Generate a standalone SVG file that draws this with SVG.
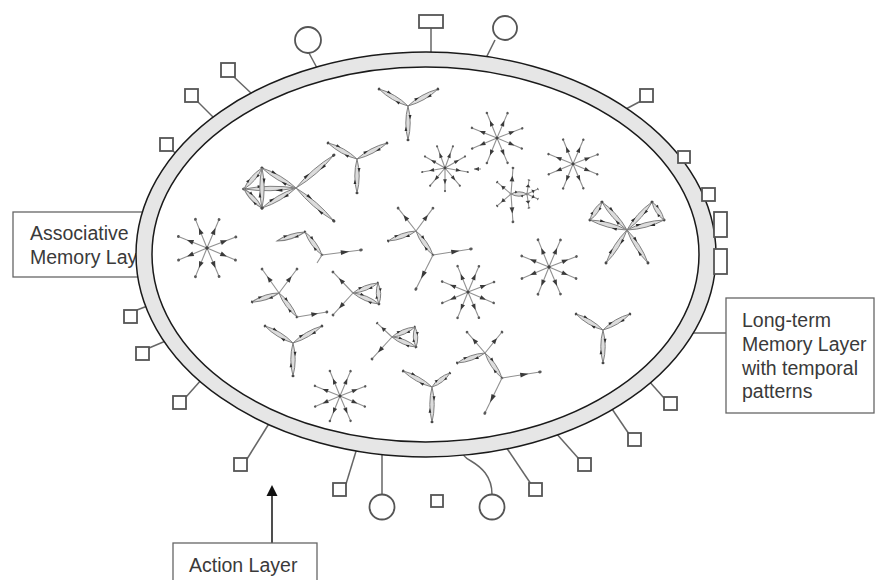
<svg xmlns="http://www.w3.org/2000/svg" xmlns:xlink="http://www.w3.org/1999/xlink" width="878" height="580" viewBox="0 0 878 580">
<style>
.lens{fill:#dcdcdc;stroke:#808080;stroke-width:1;vector-effect:non-scaling-stroke}
.sp{stroke:#909090;stroke-width:1.1;vector-effect:non-scaling-stroke}
.sq{fill:#fff;stroke:#555;stroke-width:1.8}
.ln{fill:none;stroke:#666;stroke-width:1.5}
.box{fill:#fff;stroke:#666;stroke-width:1.3}
.t{font-family:"Liberation Sans",Arial,sans-serif;font-size:19.5px;fill:#3a3a3a}
.hub{fill:#444}
</style>
<defs>
<g id="arm">
<path class="lens" d="M0,0 Q20,-4.4 40,0 Q20,4.4 0,0Z"/>
<path d="M16,-2.1 L10.5,-3.5 L10.5,-0.6Z M24,2.1 L29.5,3.4 L29.5,0.7Z" fill="#2e2e2e"/>
<circle cx="40" cy="0" r="1.5" fill="#4a4a4a"/>
</g>
<g id="spoke">
<line x1="0" y1="0" x2="30" y2="0" class="sp"/>
<path d="M21,0 L14.5,-2.4 L14.5,2.4Z" fill="#3a3a3a"/>
<circle cx="30" cy="0" r="1.4" fill="#5a5a5a"/>
</g>
<g id="star8">
<use href="#spoke" transform="rotate(-112)"/>
<use href="#spoke" transform="rotate(-67)"/>
<use href="#spoke" transform="rotate(-21)"/>
<use href="#spoke" transform="rotate(23)"/>
<use href="#spoke" transform="rotate(67)"/>
<use href="#spoke" transform="rotate(112)"/>
<use href="#spoke" transform="rotate(157)"/>
<use href="#spoke" transform="rotate(-158)"/>
<circle r="1.7" class="hub"/>
</g>
<g id="star9">
<use href="#spoke" transform="rotate(-110)"/>
<use href="#spoke" transform="rotate(-70)"/>
<use href="#spoke" transform="rotate(-30)"/>
<use href="#spoke" transform="rotate(10)"/>
<use href="#spoke" transform="rotate(50)"/>
<use href="#spoke" transform="rotate(90)"/>
<use href="#spoke" transform="rotate(130)"/>
<use href="#spoke" transform="rotate(170)"/>
<use href="#spoke" transform="rotate(-150)"/>
<circle r="1.9" class="hub"/>
</g>
</defs>
<rect width="878" height="580" fill="#fff"/>

<g id="assoc-label">
<rect class="box" x="13" y="212" width="140" height="65"/>
<text class="t" x="30" y="240">Associative</text>
<text class="t" x="30" y="264">Memory Lay</text>
</g>

<g id="connectors">
<line class="ln" x1="309" y1="53" x2="317" y2="68"/>
<line class="ln" x1="431" y1="28" x2="431" y2="54"/>
<line class="ln" x1="495" y1="40" x2="486" y2="58"/>
<line class="ln" x1="234" y1="77" x2="252" y2="94"/>
<line class="ln" x1="198" y1="102" x2="215" y2="119"/>
<line class="ln" x1="173" y1="151" x2="181" y2="158"/>
<line class="ln" x1="641" y1="101" x2="624" y2="110"/>
<line class="ln" x1="709" y1="224" x2="714" y2="224"/>
<line class="ln" x1="664" y1="398" x2="648" y2="380"/>
<line class="ln" x1="629" y1="434" x2="610" y2="406"/>
<line class="ln" x1="579" y1="459" x2="555" y2="432"/>
<line class="ln" x1="531" y1="484" x2="506" y2="447"/>
<path class="ln" d="M492,494.5 C492,476 481,467 471,461 C465,458 462,455 462,450"/>
<line class="ln" x1="382" y1="494.5" x2="382" y2="452"/>
<line class="ln" x1="346" y1="484" x2="357" y2="448"/>
<line class="ln" x1="247" y1="459" x2="270" y2="422"/>
<line class="ln" x1="186" y1="397" x2="202" y2="379"/>
<line class="ln" x1="149" y1="348" x2="168" y2="340"/>
<line class="ln" x1="137" y1="310" x2="150" y2="305"/>
<line class="ln" x1="686" y1="333" x2="726" y2="333"/>
<line x1="272" y1="543" x2="272" y2="494" stroke="#222" stroke-width="1.6"/>
<path d="M272,485 L266.5,496 L277.5,496Z" fill="#111"/>
</g>

<g id="ring">
<ellipse cx="426" cy="254.5" rx="290" ry="202.5" fill="#e6e6e6" stroke="#1a1a1a" stroke-width="1.5"/>
<ellipse cx="425.5" cy="254.5" rx="273.5" ry="187.5" fill="#fff" stroke="#1a1a1a" stroke-width="1.5"/>
</g>

<g id="sensors">
<circle class="sq" cx="308" cy="40" r="13"/>
<rect class="sq" x="419" y="15" width="24" height="13"/>
<circle class="sq" cx="505" cy="28" r="12"/>
<rect class="sq" x="221" y="63" width="14" height="14"/>
<rect class="sq" x="185" y="89" width="13" height="13"/>
<rect class="sq" x="160" y="138" width="13" height="13"/>
<rect class="sq" x="640" y="89" width="13" height="13"/>
<rect class="sq" x="678" y="151" width="12" height="12"/>
<rect class="sq" x="702" y="188" width="13" height="13"/>
<rect class="sq" x="714" y="212" width="13" height="25"/>
<rect class="sq" x="714" y="249" width="13" height="25"/>
<rect class="sq" x="664" y="397" width="13" height="13"/>
<rect class="sq" x="628" y="433" width="13" height="13"/>
<rect class="sq" x="578" y="458" width="13" height="13"/>
<rect class="sq" x="529" y="483" width="13" height="13"/>
<circle class="sq" cx="492" cy="507" r="12.5"/>
<rect class="sq" x="431" y="495" width="12" height="12"/>
<circle class="sq" cx="382" cy="507" r="12.5"/>
<rect class="sq" x="333" y="483" width="13" height="13"/>
<rect class="sq" x="234" y="458" width="13" height="13"/>
<rect class="sq" x="173" y="396" width="13" height="13"/>
<rect class="sq" x="136" y="347" width="13" height="13"/>
<rect class="sq" x="124" y="310" width="13" height="13"/>
</g>

<g id="clusters">
<g id="cA">
<use href="#arm" transform="translate(408,106) rotate(-149.6) scale(0.84,1)"/>
<use href="#arm" transform="translate(408,106) rotate(-29.5) scale(0.86,1)"/>
<use href="#arm" transform="translate(408,106) rotate(90) scale(0.85,1)"/>
</g>
<g id="cB">
<use href="#arm" transform="translate(357,159) rotate(-151) scale(0.83,1)"/>
<use href="#arm" transform="translate(357,159) rotate(-28) scale(0.85,1)"/>
<use href="#arm" transform="translate(357,159) rotate(90) scale(0.85,1)"/>
</g>
<g id="cH">
<use href="#arm" transform="translate(296,188) rotate(-41) scale(1.25,1)"/>
<use href="#arm" transform="translate(296,188) rotate(41) scale(1.25,1)"/>
<use href="#arm" transform="translate(296,188) rotate(-149.5) scale(0.985,1)"/>
<use href="#arm" transform="translate(296,188) rotate(149.5) scale(0.985,1)"/>
<use href="#arm" transform="translate(296,188) rotate(178.9) scale(1.3,1)"/>
<use href="#arm" transform="translate(244,189) rotate(-49.4) scale(0.69,1)"/>
<use href="#arm" transform="translate(244,189) rotate(46.5) scale(0.655,1)"/>
<use href="#arm" transform="translate(262,168) rotate(90) scale(1,1)"/>
</g>
<g id="cG">
<use href="#arm" transform="translate(627,230) rotate(-131.8) scale(0.94,1)"/>
<use href="#arm" transform="translate(627,230) rotate(-164.9) scale(0.96,1)"/>
<use href="#arm" transform="translate(627,230) rotate(-48.2) scale(0.94,1)"/>
<use href="#arm" transform="translate(627,230) rotate(-15.1) scale(0.96,1)"/>
<use href="#arm" transform="translate(627,230) rotate(122.5) scale(0.975,1)"/>
<use href="#arm" transform="translate(627,230) rotate(57.5) scale(0.975,1)"/>
<use href="#arm" transform="translate(590,220) rotate(-56.3) scale(0.54,1)"/>
<use href="#arm" transform="translate(664,220) rotate(-123.7) scale(0.54,1)"/>
</g>
<g id="cJ">
<use href="#arm" transform="translate(277,241) rotate(-17.8) scale(0.735,1)"/>
<use href="#arm" transform="translate(305,232) rotate(53.5) scale(0.715,1)"/>
<use href="#spoke" transform="translate(322,255) rotate(-7.3) scale(1.31,1)"/>
<line class="sp" x1="322" y1="255" x2="317" y2="263"/>
</g>
<g id="cK">
<use href="#spoke" transform="translate(279,293) rotate(-125.3) scale(0.98,1)"/>
<use href="#spoke" transform="translate(279,293) rotate(-53.1) scale(1,1)"/>
<use href="#arm" transform="translate(279,293) rotate(161.6) scale(0.71,1)"/>
<use href="#arm" transform="translate(279,293) rotate(53.1) scale(0.75,1)"/>
<use href="#spoke" transform="translate(297,317) rotate(-9.5) scale(1.01,1)"/>
</g>
<g id="cL">
<use href="#spoke" transform="translate(353,293) rotate(-133.6) scale(0.97,1)"/>
<use href="#spoke" transform="translate(353,293) rotate(132.3) scale(0.99,1)"/>
<use href="#arm" transform="translate(353,293) rotate(-21.8) scale(0.67,1)"/>
<use href="#arm" transform="translate(353,293) rotate(22.9) scale(0.705,1)"/>
<use href="#arm" transform="translate(378,283) rotate(87.3) scale(0.525,1)"/>
</g>
<g id="cM">
<use href="#spoke" transform="translate(416,231) rotate(-128) scale(0.97,1)"/>
<use href="#spoke" transform="translate(416,231) rotate(-53.5) scale(0.95,1)"/>
<use href="#arm" transform="translate(416,231) rotate(160.3) scale(0.74,1)"/>
<use href="#arm" transform="translate(416,231) rotate(54.7) scale(0.735,1)"/>
<use href="#spoke" transform="translate(433,255) rotate(-9) scale(1.28,1)"/>
<use href="#spoke" transform="translate(433,255) rotate(116.6) scale(1.27,1)"/>
</g>
<g id="cO">
<use href="#spoke" transform="translate(485,353) rotate(-130.6) scale(0.92,1)"/>
<use href="#spoke" transform="translate(485,353) rotate(-51) scale(0.9,1)"/>
<use href="#arm" transform="translate(485,353) rotate(160.3) scale(0.74,1)"/>
<use href="#arm" transform="translate(485,353) rotate(55.8) scale(0.755,1)"/>
<use href="#spoke" transform="translate(502,378) rotate(-9) scale(1.28,1)"/>
<use href="#spoke" transform="translate(502,378) rotate(116) scale(1.3,1)"/>
</g>
<g id="cP">
<use href="#arm" transform="translate(432,387) rotate(-151) scale(0.825,1)"/>
<use href="#arm" transform="translate(432,387) rotate(-37.9) scale(0.57,1)"/>
<use href="#arm" transform="translate(432,387) rotate(90) scale(0.875,1)"/>
</g>
<g id="cR">
<use href="#arm" transform="translate(293,343) rotate(-148.7) scale(0.82,1)"/>
<use href="#arm" transform="translate(293,343) rotate(-30.4) scale(0.84,1)"/>
<use href="#arm" transform="translate(293,343) rotate(90) scale(0.825,1)"/>
</g>
<g id="cS">
<use href="#spoke" transform="translate(392,337) rotate(-137) scale(0.68,1)"/>
<use href="#spoke" transform="translate(392,337) rotate(132.3) scale(0.99,1)"/>
<use href="#arm" transform="translate(392,337) rotate(-23.5) scale(0.625,1)"/>
<use href="#arm" transform="translate(392,337) rotate(22.6) scale(0.65,1)"/>
<use href="#arm" transform="translate(415,327) rotate(87) scale(0.5,1)"/>
</g>
<g id="cT">
<use href="#arm" transform="translate(603,330) rotate(-149.3) scale(0.785,1)"/>
<use href="#arm" transform="translate(603,330) rotate(-30.7) scale(0.785,1)"/>
<use href="#arm" transform="translate(603,330) rotate(90) scale(0.825,1)"/>
</g>
<g id="cF">
<use href="#spoke" transform="translate(511,194) rotate(-85.6) scale(0.87,1)"/>
<use href="#spoke" transform="translate(511,194) rotate(86) scale(0.93,1)"/>
<use href="#spoke" transform="translate(511,194) rotate(-139.4) scale(0.61,1)"/>
<use href="#spoke" transform="translate(511,194) rotate(139.4) scale(0.61,1)"/>
<use href="#arm" transform="translate(511,194) rotate(0) scale(0.4,1)"/>
<use href="#spoke" transform="translate(527,194) rotate(-81.9) scale(0.47,1)"/>
<use href="#spoke" transform="translate(527,194) rotate(-24.4) scale(0.4,1)"/>
<use href="#spoke" transform="translate(527,194) rotate(24.4) scale(0.4,1)"/>
<use href="#spoke" transform="translate(527,194) rotate(81.9) scale(0.47,1)"/>
</g>
<g id="stars">
<use href="#star8" transform="translate(207,248) scale(1.03)"/>
<use href="#star8" transform="translate(497,138) scale(0.9)"/>
<use href="#star8" transform="translate(573,164) scale(0.88)"/>
<use href="#star8" transform="translate(549,267) scale(0.98)"/>
<use href="#star8" transform="translate(468,292) scale(0.93)"/>
<use href="#star8" transform="translate(340,396) scale(0.9)"/>
<use href="#star9" transform="translate(445,168) scale(0.77)"/>
<line class="sp" x1="474" y1="169" x2="481" y2="169"/>
<path d="M474,169 L479,167 L479,171Z" fill="#444"/>
</g>
</g>

<g id="ltm-label">
<rect class="box" x="726" y="298" width="148" height="115"/>
<text class="t" x="742" y="327">Long-term</text>
<text class="t" x="742" y="351">Memory Layer</text>
<text class="t" x="742" y="375">with temporal</text>
<text class="t" x="742" y="398">patterns</text>
</g>
<g id="action-label">
<rect class="box" x="173" y="543" width="144" height="50"/>
<text class="t" x="189" y="572">Action Layer</text>
</g>
</svg>
